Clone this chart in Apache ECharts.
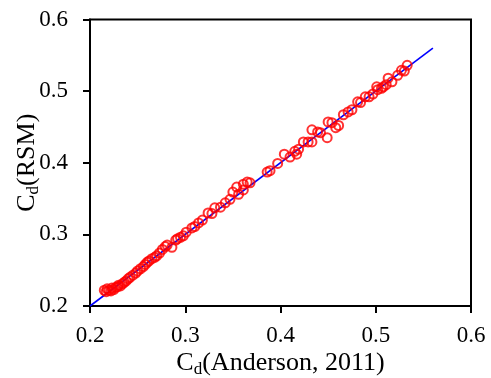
<!DOCTYPE html>
<html>
<head>
<meta charset="utf-8">
<script src="https://cdn.jsdelivr.net/npm/echarts@6/dist/echarts.min.js"></script>
<style>html,body{margin:0;padding:0;background:#fff;}#c{width:491px;height:378px;}</style>
</head>
<body>
<div id="c"></div>
<script>
var andersonCd = [0.215,0.217,0.218,0.220,0.222,0.223,0.225,0.227,0.229,0.230,0.232,0.234,0.236,0.238,0.240,0.242,0.245,0.248,0.250,0.253,0.256,0.258,0.260,0.262,0.265,0.268,0.270,0.273,0.276,0.279,0.281,0.286,0.290,0.292,0.295,0.298,0.301,0.307,0.310,0.314,0.318,0.324,0.328,0.331,0.337,0.342,0.347,0.350,0.354,0.356,0.361,0.361,0.365,0.368,0.386,0.389,0.397,0.404,0.410,0.415,0.417,0.419,0.424,0.429,0.433,0.433,0.439,0.442,0.449,0.450,0.454,0.458,0.461,0.466,0.471,0.475,0.481,0.484,0.489,0.493,0.497,0.501,0.502,0.506,0.508,0.511,0.513,0.517,0.523,0.527,0.530,0.533];
var rsmCd      = [0.222,0.220,0.224,0.222,0.221,0.225,0.223,0.226,0.227,0.229,0.228,0.231,0.233,0.235,0.238,0.240,0.243,0.246,0.249,0.252,0.255,0.258,0.261,0.263,0.266,0.268,0.270,0.274,0.279,0.283,0.285,0.282,0.292,0.294,0.296,0.298,0.303,0.309,0.311,0.316,0.320,0.330,0.329,0.337,0.338,0.344,0.349,0.359,0.366,0.356,0.362,0.370,0.373,0.372,0.387,0.389,0.399,0.412,0.408,0.416,0.412,0.419,0.429,0.429,0.429,0.446,0.443,0.442,0.435,0.457,0.456,0.449,0.452,0.467,0.471,0.474,0.485,0.484,0.492,0.492,0.496,0.506,0.502,0.504,0.506,0.509,0.518,0.513,0.522,0.529,0.528,0.536];
var lineX = [0.2, 0.56];
var lineY = [0.2, 0.56];
var tickValues = [0.2, 0.3, 0.4, 0.5, 0.6];

var pts = andersonCd.map(function(v, i){ return [v, rsmCd[i]]; });
var linePts = lineX.map(function(v, i){ return [v, lineY[i]]; });
var font = 'Liberation Serif';
function nameRich(){
  return {
    a: {fontFamily: font, fontSize: 26, color: '#000', lineHeight: 30},
    b: {fontFamily: font, fontSize: 17, color: '#000', lineHeight: 14, verticalAlign: 'bottom'}
  };
}
var chart = echarts.init(document.getElementById('c'), null, {renderer: 'canvas'});
chart.setOption({
  animation: false,
  backgroundColor: '#fff',
  grid: {left: 90, right: 20, top: 19.5, bottom: 72, containLabel: false, outerBoundsMode: 'none', show: true, borderColor: '#000', borderWidth: 2, backgroundColor: 'transparent'},
  xAxis: {
    type: 'value', min: 0.2, max: 0.6, interval: 0.1,
    name: '{a|C}{b|d}{a|(Anderson, 2011)}', nameLocation: 'middle', nameGap: 42, nameMoveOverlap: false,
    nameTextStyle: {rich: nameRich()},
    axisLine: {show: true, onZero: false, lineStyle: {color: '#000', width: 2}},
    axisTick: {show: true, inside: false, length: 7, lineStyle: {color: '#000', width: 2}},
    axisLabel: {color: '#000', fontFamily: font, fontSize: 23, margin: 18, formatter: function(v){ return v.toFixed(1); }},
    splitLine: {show: false}
  },
  yAxis: {
    type: 'value', min: 0.2, max: 0.6, interval: 0.1,
    name: '{a|C}{b|d}{a|(RSM)}', nameLocation: 'middle', nameGap: 48, nameRotate: 90, nameMoveOverlap: false,
    nameTextStyle: {rich: nameRich()},
    axisLine: {show: true, onZero: false, lineStyle: {color: '#000', width: 2}},
    axisTick: {show: true, inside: false, length: 7, lineStyle: {color: '#000', width: 2}},
    axisLabel: {color: '#000', fontFamily: font, fontSize: 23, margin: 22, formatter: function(v){ return v.toFixed(1); }},
    splitLine: {show: false}
  },
  series: [
    {type: 'line', data: linePts, symbol: 'none', lineStyle: {color: '#0000ff', width: 1.6}, z: 1},
    {type: 'scatter', data: pts, symbol: 'circle', symbolSize: 9,
     itemStyle: {color: 'rgba(255,255,255,0)', borderColor: '#ff0000', borderWidth: 2}, z: 2}
  ]
});
</script>
</body>
</html>
